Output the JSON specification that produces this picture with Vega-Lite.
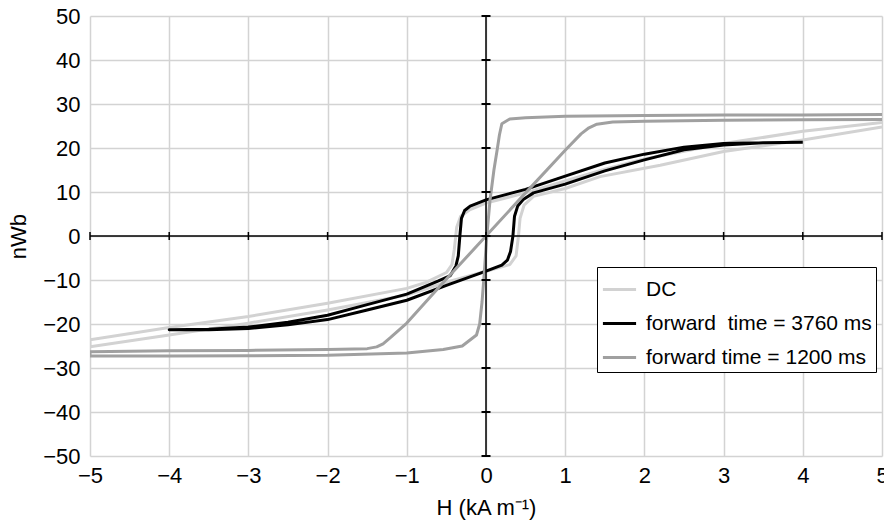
{
  "$schema": "https://vega.github.io/schema/vega-lite/v6.json",
  "width": 792,
  "height": 440,
  "autosize": "none",
  "padding": {"left": 90, "top": 16, "right": 2, "bottom": 70},
  "background": "white",
  "config": {
    "font": "Liberation Sans",
    "view": {"stroke": null},
    "axis": {
      "labelFont": "Liberation Sans",
      "labelFontSize": 22,
      "labelColor": "#000000",
      "titleFont": "Liberation Sans",
      "titleFontSize": 22,
      "titleFontWeight": "normal",
      "titleColor": "#000000",
      "gridColor": "#d3d3d3",
      "gridWidth": 1.5,
      "gridOpacity": 1,
      "domain": false,
      "ticks": false
    },
    "legend": {
      "labelFont": "Liberation Sans",
      "labelFontSize": 21,
      "labelColor": "#000000",
      "labelLimit": 400
    }
  },
  "datasets": {
    "loops": [
      {"series": "DC", "h": 5, "v": 25.8},
      {"series": "DC", "h": 4, "v": 23.8},
      {"series": "DC", "h": 3, "v": 21.0},
      {"series": "DC", "h": 2, "v": 17.5},
      {"series": "DC", "h": 1.5, "v": 15.2},
      {"series": "DC", "h": 1, "v": 12.5},
      {"series": "DC", "h": 0.5, "v": 9.8},
      {"series": "DC", "h": 0, "v": 7.5},
      {"series": "DC", "h": -0.2, "v": 6.0},
      {"series": "DC", "h": -0.32, "v": 4.5},
      {"series": "DC", "h": -0.37, "v": 2.0},
      {"series": "DC", "h": -0.4, "v": -3.0},
      {"series": "DC", "h": -0.43, "v": -6.5},
      {"series": "DC", "h": -0.5, "v": -8.3},
      {"series": "DC", "h": -0.75, "v": -10.5},
      {"series": "DC", "h": -1, "v": -11.9},
      {"series": "DC", "h": -2, "v": -15.3},
      {"series": "DC", "h": -3, "v": -18.3},
      {"series": "DC", "h": -4, "v": -20.8},
      {"series": "DC", "h": -5, "v": -23.6},
      {"series": "DC", "h": -5, "v": -25.2},
      {"series": "DC", "h": -4, "v": -22.5},
      {"series": "DC", "h": -3, "v": -19.8},
      {"series": "DC", "h": -2, "v": -16.8},
      {"series": "DC", "h": -1, "v": -13.4},
      {"series": "DC", "h": -0.5, "v": -10.5},
      {"series": "DC", "h": 0, "v": -8.0},
      {"series": "DC", "h": 0.3, "v": -6.5},
      {"series": "DC", "h": 0.38, "v": -4.5},
      {"series": "DC", "h": 0.41, "v": 0},
      {"series": "DC", "h": 0.43, "v": 4.0},
      {"series": "DC", "h": 0.48, "v": 7.0},
      {"series": "DC", "h": 0.6, "v": 9.0},
      {"series": "DC", "h": 1, "v": 10.8},
      {"series": "DC", "h": 1.44, "v": 13.5},
      {"series": "DC", "h": 2.2, "v": 16.1},
      {"series": "DC", "h": 3, "v": 19.2},
      {"series": "DC", "h": 4, "v": 21.8},
      {"series": "DC", "h": 5, "v": 24.8},

      {"series": "forward\u00a0 time = 3760 ms", "h": 4, "v": 21.3},
      {"series": "forward\u00a0 time = 3760 ms", "h": 3.5, "v": 21.2},
      {"series": "forward\u00a0 time = 3760 ms", "h": 3, "v": 21.0},
      {"series": "forward\u00a0 time = 3760 ms", "h": 2.5, "v": 20.2},
      {"series": "forward\u00a0 time = 3760 ms", "h": 2, "v": 18.6},
      {"series": "forward\u00a0 time = 3760 ms", "h": 1.5, "v": 16.6},
      {"series": "forward\u00a0 time = 3760 ms", "h": 1, "v": 13.6},
      {"series": "forward\u00a0 time = 3760 ms", "h": 0.5, "v": 10.6},
      {"series": "forward\u00a0 time = 3760 ms", "h": 0, "v": 8.2},
      {"series": "forward\u00a0 time = 3760 ms", "h": -0.2, "v": 6.8},
      {"series": "forward\u00a0 time = 3760 ms", "h": -0.27, "v": 5.8},
      {"series": "forward\u00a0 time = 3760 ms", "h": -0.31, "v": 4.0},
      {"series": "forward\u00a0 time = 3760 ms", "h": -0.33, "v": 0},
      {"series": "forward\u00a0 time = 3760 ms", "h": -0.35, "v": -4.5},
      {"series": "forward\u00a0 time = 3760 ms", "h": -0.38, "v": -6.8},
      {"series": "forward\u00a0 time = 3760 ms", "h": -0.45, "v": -9.0},
      {"series": "forward\u00a0 time = 3760 ms", "h": -0.6, "v": -10.2},
      {"series": "forward\u00a0 time = 3760 ms", "h": -1, "v": -13.2},
      {"series": "forward\u00a0 time = 3760 ms", "h": -1.5, "v": -15.6},
      {"series": "forward\u00a0 time = 3760 ms", "h": -2, "v": -18.0},
      {"series": "forward\u00a0 time = 3760 ms", "h": -2.5, "v": -19.6},
      {"series": "forward\u00a0 time = 3760 ms", "h": -3, "v": -20.7},
      {"series": "forward\u00a0 time = 3760 ms", "h": -3.5, "v": -21.2},
      {"series": "forward\u00a0 time = 3760 ms", "h": -4, "v": -21.3},
      {"series": "forward\u00a0 time = 3760 ms", "h": -3.5, "v": -21.3},
      {"series": "forward\u00a0 time = 3760 ms", "h": -3, "v": -21.0},
      {"series": "forward\u00a0 time = 3760 ms", "h": -2.5, "v": -20.2},
      {"series": "forward\u00a0 time = 3760 ms", "h": -2, "v": -19.0},
      {"series": "forward\u00a0 time = 3760 ms", "h": -1.5, "v": -16.8},
      {"series": "forward\u00a0 time = 3760 ms", "h": -1, "v": -14.6},
      {"series": "forward\u00a0 time = 3760 ms", "h": -0.5, "v": -11.2},
      {"series": "forward\u00a0 time = 3760 ms", "h": 0, "v": -8.0},
      {"series": "forward\u00a0 time = 3760 ms", "h": 0.2, "v": -6.6},
      {"series": "forward\u00a0 time = 3760 ms", "h": 0.27, "v": -5.5},
      {"series": "forward\u00a0 time = 3760 ms", "h": 0.31, "v": -3.5},
      {"series": "forward\u00a0 time = 3760 ms", "h": 0.34, "v": 0},
      {"series": "forward\u00a0 time = 3760 ms", "h": 0.36, "v": 4.5},
      {"series": "forward\u00a0 time = 3760 ms", "h": 0.4, "v": 6.8},
      {"series": "forward\u00a0 time = 3760 ms", "h": 0.47, "v": 8.3},
      {"series": "forward\u00a0 time = 3760 ms", "h": 0.6, "v": 9.8},
      {"series": "forward\u00a0 time = 3760 ms", "h": 1, "v": 11.8},
      {"series": "forward\u00a0 time = 3760 ms", "h": 1.5, "v": 14.8},
      {"series": "forward\u00a0 time = 3760 ms", "h": 2, "v": 17.3},
      {"series": "forward\u00a0 time = 3760 ms", "h": 2.5, "v": 19.6},
      {"series": "forward\u00a0 time = 3760 ms", "h": 3, "v": 20.7},
      {"series": "forward\u00a0 time = 3760 ms", "h": 3.5, "v": 21.2},
      {"series": "forward\u00a0 time = 3760 ms", "h": 4, "v": 21.3},

      {"series": "forward time = 1200 ms", "h": 5, "v": 27.6},
      {"series": "forward time = 1200 ms", "h": 4, "v": 27.5},
      {"series": "forward time = 1200 ms", "h": 3, "v": 27.5},
      {"series": "forward time = 1200 ms", "h": 2, "v": 27.4},
      {"series": "forward time = 1200 ms", "h": 1, "v": 27.2},
      {"series": "forward time = 1200 ms", "h": 0.5, "v": 26.9},
      {"series": "forward time = 1200 ms", "h": 0.3, "v": 26.6},
      {"series": "forward time = 1200 ms", "h": 0.2, "v": 25.5},
      {"series": "forward time = 1200 ms", "h": 0.17, "v": 23.0},
      {"series": "forward time = 1200 ms", "h": 0.14, "v": 19.5},
      {"series": "forward time = 1200 ms", "h": 0.1, "v": 15.0},
      {"series": "forward time = 1200 ms", "h": 0.05, "v": 8.0},
      {"series": "forward time = 1200 ms", "h": 0.01, "v": 0},
      {"series": "forward time = 1200 ms", "h": -0.02, "v": -8.0},
      {"series": "forward time = 1200 ms", "h": -0.05, "v": -15.0},
      {"series": "forward time = 1200 ms", "h": -0.08, "v": -20.0},
      {"series": "forward time = 1200 ms", "h": -0.12, "v": -22.5},
      {"series": "forward time = 1200 ms", "h": -0.3, "v": -25.0},
      {"series": "forward time = 1200 ms", "h": -0.54, "v": -25.8},
      {"series": "forward time = 1200 ms", "h": -1, "v": -26.6},
      {"series": "forward time = 1200 ms", "h": -2, "v": -27.1},
      {"series": "forward time = 1200 ms", "h": -3, "v": -27.2},
      {"series": "forward time = 1200 ms", "h": -4, "v": -27.3},
      {"series": "forward time = 1200 ms", "h": -5, "v": -27.3},
      {"series": "forward time = 1200 ms", "h": -5, "v": -26.3},
      {"series": "forward time = 1200 ms", "h": -4, "v": -26.1},
      {"series": "forward time = 1200 ms", "h": -3, "v": -26.0},
      {"series": "forward time = 1200 ms", "h": -2, "v": -25.8},
      {"series": "forward time = 1200 ms", "h": -1.5, "v": -25.6},
      {"series": "forward time = 1200 ms", "h": -1.38, "v": -25.2},
      {"series": "forward time = 1200 ms", "h": -1.3, "v": -24.5},
      {"series": "forward time = 1200 ms", "h": -1.2, "v": -23.0},
      {"series": "forward time = 1200 ms", "h": -1, "v": -19.8},
      {"series": "forward time = 1200 ms", "h": -0.5, "v": -9.8},
      {"series": "forward time = 1200 ms", "h": 0, "v": 0},
      {"series": "forward time = 1200 ms", "h": 0.5, "v": 9.8},
      {"series": "forward time = 1200 ms", "h": 1, "v": 19.5},
      {"series": "forward time = 1200 ms", "h": 1.2, "v": 23.2},
      {"series": "forward time = 1200 ms", "h": 1.3, "v": 24.6},
      {"series": "forward time = 1200 ms", "h": 1.4, "v": 25.4},
      {"series": "forward time = 1200 ms", "h": 1.6, "v": 25.9},
      {"series": "forward time = 1200 ms", "h": 2, "v": 26.1},
      {"series": "forward time = 1200 ms", "h": 3, "v": 26.3},
      {"series": "forward time = 1200 ms", "h": 4, "v": 26.4},
      {"series": "forward time = 1200 ms", "h": 5, "v": 26.5}
    ],
    "hTicks": [
      {"h": -5}, {"h": -4}, {"h": -3}, {"h": -2}, {"h": -1}, {"h": 0},
      {"h": 1}, {"h": 2}, {"h": 3}, {"h": 4}, {"h": 5}
    ],
    "vTicks": [
      {"v": -50}, {"v": -40}, {"v": -30}, {"v": -20}, {"v": -10}, {"v": 0},
      {"v": 10}, {"v": 20}, {"v": 30}, {"v": 40}, {"v": 50}
    ]
  },
  "layer": [
    {
      "data": {"name": "loops"},
      "mark": {"type": "line", "strokeWidth": 3, "strokeJoin": "round", "strokeCap": "butt", "clip": true},
      "encoding": {
        "x": {
          "field": "h", "type": "quantitative",
          "scale": {"domain": [-5, 5], "nice": false},
          "axis": {
            "values": [-5, -4, -3, -2, -1, 0, 1, 2, 3, 4, 5],
            "format": "d",
            "title": "H (kA m⁻¹)",
            "labelPadding": 9,
            "titlePadding": 11,
            "labelFlush": false
          }
        },
        "y": {
          "field": "v", "type": "quantitative",
          "scale": {"domain": [-50, 50], "nice": false},
          "axis": {
            "values": [-50, -40, -30, -20, -10, 0, 10, 20, 30, 40, 50],
            "format": "d",
            "title": "nWb",
            "labelPadding": 10,
            "titlePadding": 12
          }
        },
        "color": {
          "field": "series", "type": "nominal",
          "scale": {
            "domain": ["DC", "forward\u00a0 time = 3760 ms", "forward time = 1200 ms"],
            "range": ["#d2d2d2", "#000000", "#a0a0a0"]
          },
          "legend": {
            "title": null,
            "orient": "none",
            "legendX": 507,
            "legendY": 251,
            "symbolType": "stroke",
            "symbolSize": 1100,
            "symbolStrokeWidth": 3,
            "strokeColor": "#000000",
            "fillColor": "#ffffff",
            "padding": 4,
            "rowPadding": 5,
            "labelOffset": 8
          }
        },
        "order": {"value": null}
      }
    },
    {
      "data": {"values": [{}]},
      "mark": {"type": "rule", "color": "#000000", "strokeWidth": 1.5},
      "encoding": {"x": {"datum": 0}}
    },
    {
      "data": {"values": [{}]},
      "mark": {"type": "rule", "color": "#000000", "strokeWidth": 1.5},
      "encoding": {"y": {"datum": 0}}
    },
    {
      "data": {"name": "vTicks"},
      "mark": {"type": "tick", "orient": "horizontal", "color": "#000000", "size": 9, "thickness": 2, "opacity": 1},
      "encoding": {
        "x": {"datum": 0},
        "y": {"field": "v", "type": "quantitative"}
      }
    },
    {
      "data": {"name": "hTicks"},
      "mark": {"type": "tick", "orient": "vertical", "color": "#000000", "size": 8, "thickness": 1.5, "opacity": 1},
      "encoding": {
        "x": {"field": "h", "type": "quantitative"},
        "y": {"datum": 0}
      }
    }
  ]
}
